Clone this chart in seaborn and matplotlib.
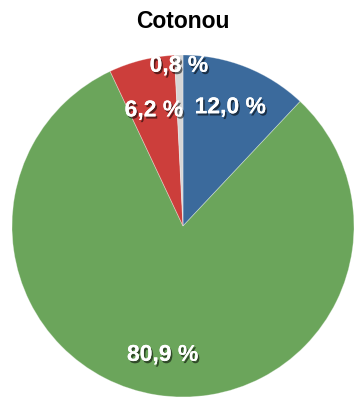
import numpy as np
import matplotlib
matplotlib.use("Agg")
import matplotlib.pyplot as plt
import matplotlib.patheffects as pe
import seaborn as sns

# Share of each category in Cotonou (percent)
categories = ["Catégorie A", "Catégorie B", "Catégorie C", "Catégorie D"]
shares = [12.0, 80.9, 6.2, 0.8]
title = "Cotonou"

sns.set_theme(style="white")
plt.rcParams["font.family"] = ["Liberation Sans", "DejaVu Sans"]

palette = sns.color_palette(["#3b6a9c", "#6ba55b", "#cc3e3b", "#d6d6d6"])
# radial position of each percentage label (fraction of the radius)
label_radius = [0.75, 0.76, 0.70, 0.94]

W, H = 355, 398
fig = plt.figure(figsize=(W / 100, H / 100), dpi=100)
cx, cy, r = 183, 226, 171
ax = fig.add_axes([(cx - r) / W, (H - cy - r) / H, 2 * r / W, 2 * r / H])

wedges, _ = ax.pie(
    shares,
    colors=palette,
    startangle=90,
    counterclock=False,
    radius=1.0,
    wedgeprops=dict(linewidth=0.6, edgecolor=(1, 1, 1, 0.35)),
)
ax.set_xlim(-1, 1)
ax.set_ylim(-1, 1)
ax.set_aspect("equal")
ax.axis("off")

shadow = [pe.withSimplePatchShadow(offset=(1.2, -1.6), shadow_rgbFace="black", alpha=0.55),
          pe.Normal()]
for w, v, rr in zip(wedges, shares, label_radius):
    mid = np.deg2rad((w.theta1 + w.theta2) / 2)
    txt = f"{v:.1f}".replace(".", ",") + " %"
    ax.text(rr * np.cos(mid), rr * np.sin(mid), txt, ha="center", va="center",
            color="white", fontsize=16.5, fontweight="bold", path_effects=shadow)

fig.text(cx / W, 1 - 22 / H, title, ha="center", va="center",
         fontsize=16.5, fontweight="bold", color="black")

fig.savefig("out.png", dpi=100)
